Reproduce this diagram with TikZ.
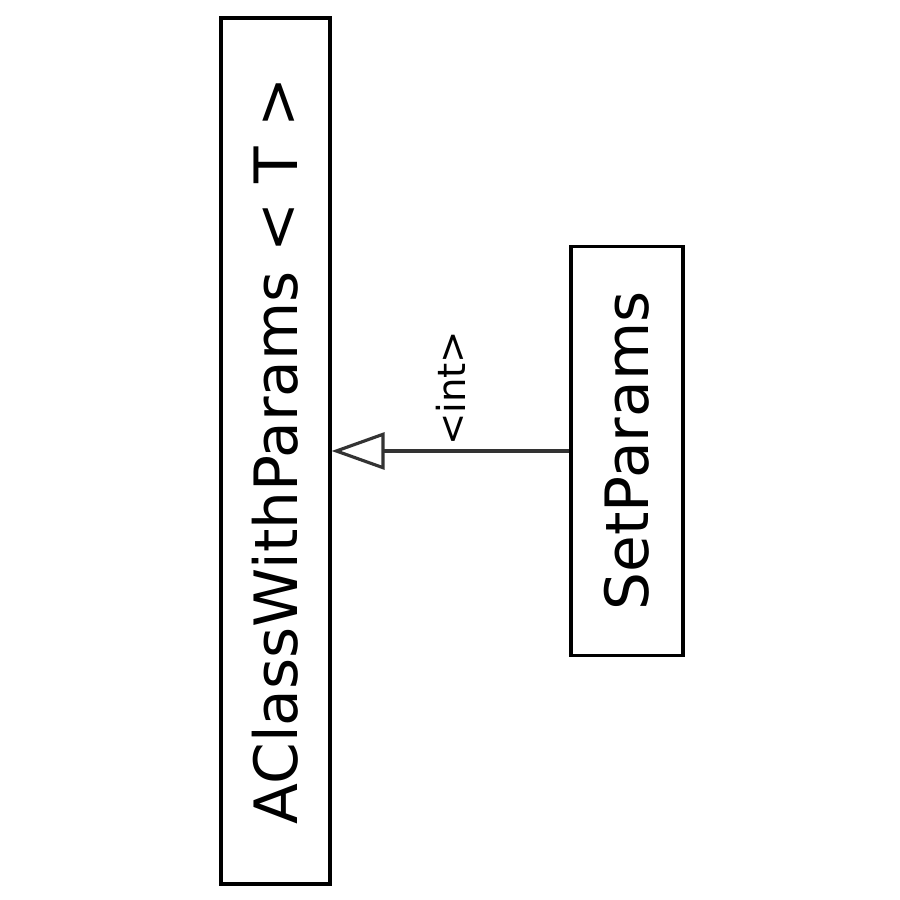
\documentclass[tikz,border=0pt]{standalone}
\usepackage{fontspec}
\setmainfont{DejaVu Sans}
\usepackage{tikz}
\usetikzlibrary{arrows.meta,positioning}
\tikzset{
  classbox/.style={draw=black, line width=0.9pt, fill=white, rotate=90, inner sep=0pt, align=center, font=\fontsize{17}{20}\selectfont},
  inherit/.style={draw=black!80, line width=0.9pt, -{Triangle[open, length=5.3mm, width=3.7mm, fill=white]}},
  tmpllabel/.style={rotate=90, anchor=west, inner sep=1pt, text=black, font=\fontsize{11}{13}\selectfont}
}
\begin{document}
\begin{tikzpicture}
  \useasboundingbox (0,0) rectangle (9,9);
  \node[classbox, minimum width=8.66cm, minimum height=1.09cm] (base) at (2.755,4.49) {AClassWithParams < T >};
  \node[classbox, minimum width=4.09cm, minimum height=1.12cm] (child) at (6.27,4.49) {SetParams};
  \draw[inherit] (child) -- (base) node[midway, tmpllabel] {<int>};
\end{tikzpicture}
\end{document}
